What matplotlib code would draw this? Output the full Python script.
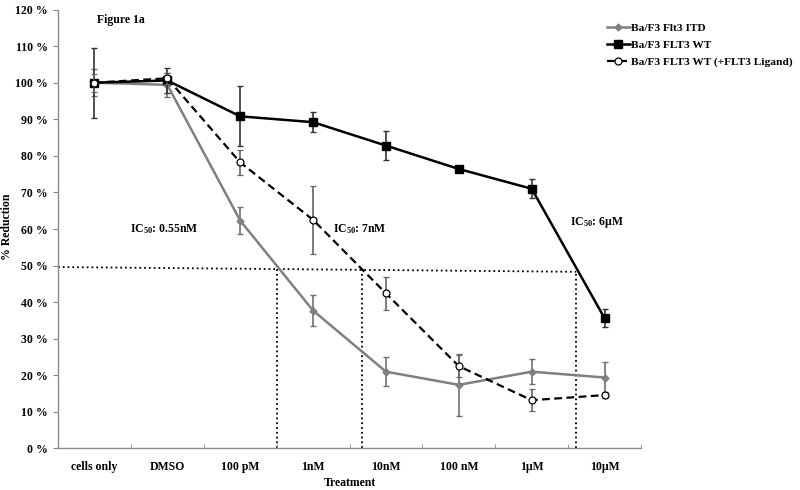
import matplotlib
matplotlib.use("Agg")
import matplotlib.pyplot as plt
from matplotlib.lines import Line2D
import numpy as np

plt.rcParams['font.family'] = ['Liberation Serif', 'DejaVu Serif']
plt.rcParams['font.weight'] = 'bold'
plt.rcParams['mathtext.fontset'] = 'custom'
plt.rcParams['mathtext.rm'] = 'Liberation Serif:bold'
plt.rcParams['mathtext.it'] = 'Liberation Serif:bold'
plt.rcParams['mathtext.bf'] = 'Liberation Serif:bold'

categories = ["cells only", "DMSO", "100 pM", "1nM", "10nM", "100 nM", "1µM", "10µM"]

itd_vals = [100.0, 99.4, 62.3, 37.7, 21.0, 17.4, 21.0, 19.4]
itd_err = [3.7, 3.3, 3.6, 4.2, 4.0, 8.4, 3.5, 4.2]

wt_vals = [100.0, 100.6, 90.8, 89.2, 82.8, 76.4, 71.0, 35.6]
wt_err = [9.6, 3.3, 8.2, 2.7, 3.9, 0.0, 2.6, 2.4]

lig_vals = [100.0, 101.2, 78.2, 62.5, 42.4, 22.5, 13.2, 14.6]
lig_err = [2.5, 1.5, 3.4, 9.3, 4.5, 3.0, 3.0, 0.8]

labels = ["Ba/F3 Flt3 ITD", "Ba/F3 FLT3 WT", "Ba/F3 FLT3 WT (+FLT3 Ligand)"]

ic50_labels = [r"IC$_{\mathrm{50}}$: 0.55nM", r"IC$_{\mathrm{50}}$: 7nM", r"IC$_{\mathrm{50}}$: 6µM"]
ic50_x = [2.5, 3.67, 6.61]        # category positions of IC50 drop lines
ic50_level = [49.6, 49.4, 48.3]   # % level where drop lines meet horizontal line

fig = plt.figure(figsize=(8, 4.9), dpi=100)
ax = fig.add_axes([0.0725, 0.0847, 0.7288, 0.8959])

x = np.arange(len(categories))

# reference dotted lines
ax.plot([-0.5, ic50_x[-1]], [ic50_level[0], ic50_level[-1]], color='black', ls=':', lw=1.3, zorder=1)
for xi, lv in zip(ic50_x, ic50_level):
    ax.plot([xi, xi], [0, lv], color='black', ls=':', lw=1.3, zorder=1)

# series
itd_style = dict(color='#808080', lw=1.8, marker='D', ms=3.5, mfc='#808080', mec='#808080')
wt_style = dict(color='black', lw=1.8, marker='s', ms=6, mfc='black', mec='black')
lig_style = dict(color='black', lw=1.6, ls=(0, (3.5, 2)), marker='o', ms=5,
                 mfc='white', mec='black', mew=0.9)

ax.errorbar(x, itd_vals, yerr=itd_err, ecolor='#707070', elinewidth=1.2, capsize=2.5,
            capthick=1.0, zorder=3, **itd_style)
ax.errorbar(x, wt_vals, yerr=wt_err, ecolor='#333333', elinewidth=1.2, capsize=2.5,
            capthick=1.0, zorder=4, **wt_style)
ax.errorbar(x, lig_vals, yerr=lig_err, ecolor='#666666', elinewidth=1.2, capsize=2.5,
            capthick=1.0, zorder=5, **lig_style)

ax.set_xlim(-0.5, 7.5)
ax.set_ylim(0, 120)
ax.set_yticks(np.arange(0, 121, 10))
ax.set_yticklabels([f"{v} %" for v in range(0, 121, 10)], fontsize=8.5, fontweight='bold')
ax.set_xticks(x)
ax.set_xticklabels(categories, fontsize=8.5, fontweight='bold')
ax.set_xticks(np.arange(-0.5, 7.6, 0.5), minor=True)
ax.tick_params(axis='x', which='major', length=0, pad=9)
ax.tick_params(axis='x', which='minor', length=3, direction='in', color='#888888')
ax.tick_params(axis='y', length=3.5, direction='out', color='#888888', pad=4)

for s in ['top', 'right']:
    ax.spines[s].set_visible(False)
for s in ['left', 'bottom']:
    ax.spines[s].set_color('#8c8c8c')
    ax.spines[s].set_linewidth(1.0)

ax.set_xlabel("Treatment", fontsize=8.5, fontweight='bold', labelpad=3)
ax.set_ylabel("% Reduction", fontsize=8.5, fontweight='bold')
ax.yaxis.set_label_coords(-0.077, 0.506)

ax.text(0.03, 117, "Figure 1a", fontsize=8.5, fontweight='bold', va='center', ha='left')
ax.text(0.49, 60.1, ic50_labels[0], fontsize=8.5, va='center', ha='left')
ax.text(3.27, 60.1, ic50_labels[1], fontsize=8.5, va='center', ha='left')
ax.text(6.52, 61.7, ic50_labels[2], fontsize=8.5, va='center', ha='left')

handles = [Line2D([], [], **itd_style), Line2D([], [], **wt_style), Line2D([], [], **lig_style)]
leg = fig.legend(handles, labels, loc='upper left', bbox_to_anchor=(607 / 800, 1 - 23 / 490),
                 frameon=False, fontsize=8.2, handlelength=2.0, handletextpad=0.15,
                 labelspacing=0.62, borderpad=0, borderaxespad=0)

fig.savefig("out.png", dpi=100)
